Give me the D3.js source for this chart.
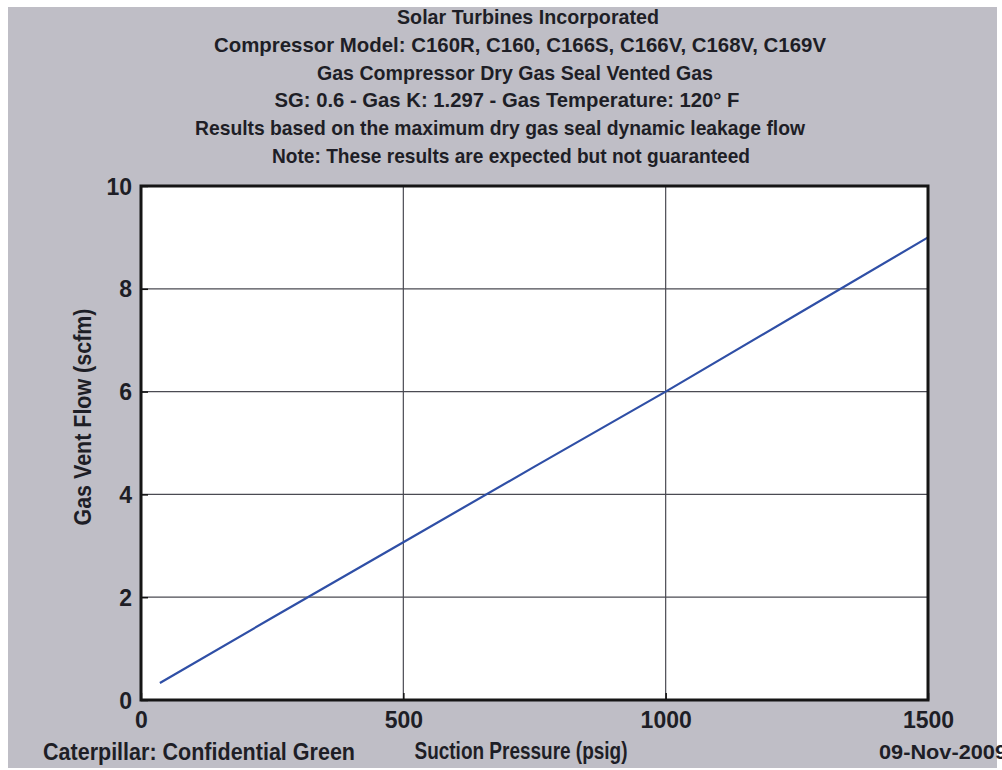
<!DOCTYPE html>
<html>
<head>
<meta charset="utf-8">
<script src="https://cdn.jsdelivr.net/npm/d3@7"></script>
<style>
  body { margin: 0; background: #fff; }
  text { font-family: "Liberation Sans", Arial, sans-serif; fill: #1e1e26; font-weight: bold; }
</style>
</head>
<body>
<div id="chart"></div>
<script>
// DATA
var pressure = [36, 250, 500, 750, 1000, 1250, 1500]
var ventFlow = [0.33, 1.6, 3.07, 4.54, 6.0, 7.5, 9.0]
var xTicks = [0, 500, 1000, 1500]
var yTicks = [0, 2, 4, 6, 8, 10]
var titleLines = [
    "Solar Turbines Incorporated",
    "Compressor Model: C160R, C160, C166S, C166V, C168V, C169V",
    "Gas Compressor Dry Gas Seal Vented Gas",
    "SG: 0.6 - Gas K: 1.297 - Gas Temperature: 120\u00b0 F",
    "Results based on the maximum dry gas seal dynamic leakage flow",
    "Note: These results are expected but not guaranteed"
]
// measured widths / centres of the title lines
var titleWidth = [262, 612, 396, 465, 610, 478]
var titleCenter = [528, 520, 515, 507, 500, 511]

var W = 1002, H = 770
var margin = {top: 186, right: 74, bottom: 70, left: 141}
var width = W - margin.left - margin.right
var height = H - margin.top - margin.bottom

var svg = d3.select("#chart").append("svg")
    .attr("width", W)
    .attr("height", H)

// gray figure background
svg.append("rect")
    .attr("x", 8).attr("y", 7)
    .attr("width", 989).attr("height", 761)
    .attr("fill", "#bfbec6")

var g = svg.append("g")
    .attr("transform", `translate(${margin.left}, ${margin.top})`)

var x = d3.scaleLinear().domain([0, 1500]).range([0, width])
var y = d3.scaleLinear().domain([0, 10]).range([height, 0])

g.append("rect")
    .attr("width", width).attr("height", height)
    .attr("fill", "#fff")

// grid lines
g.selectAll(".gx").data(xTicks.slice(1, -1)).enter().append("line")
    .attr("x1", d => x(d)).attr("x2", d => x(d))
    .attr("y1", 0).attr("y2", height)
    .attr("stroke", "#4a4a52").attr("stroke-width", 1.2)
g.selectAll(".gy").data(yTicks.slice(1, -1)).enter().append("line")
    .attr("x1", 0).attr("x2", width)
    .attr("y1", d => y(d)).attr("y2", d => y(d))
    .attr("stroke", "#4a4a52").attr("stroke-width", 1.2)

// the curve
var line = d3.line().x((d, i) => x(pressure[i])).y(d => y(d))
g.append("path")
    .datum(ventFlow)
    .attr("d", line)
    .attr("fill", "none")
    .attr("stroke", "#2f4fa6")
    .attr("stroke-width", 2.2)

// axes (MATLAB style ticks inward)
var xAxis = g.append("g")
    .attr("transform", `translate(0, ${height})`)
    .call(d3.axisBottom(x).tickValues(xTicks).tickFormat(d3.format("d")).tickSize(-7).tickPadding(11))
var yAxis = g.append("g")
    .call(d3.axisLeft(y).tickValues(yTicks).tickFormat(d3.format("d")).tickSize(-7).tickPadding(9))
xAxis.selectAll("text").style("font-size", "23px").attr("dy", "0.75em")
yAxis.selectAll("text").style("font-size", "23px").attr("dy", "0.35em")
g.selectAll(".domain").remove()
g.selectAll(".tick line").attr("stroke", "#111").attr("stroke-width", 1.5)

// frame
g.append("rect")
    .attr("width", width).attr("height", height)
    .attr("fill", "none")
    .attr("stroke", "#151515")
    .attr("stroke-width", 3)

// titles
svg.selectAll(".title").data(titleLines).enter().append("text")
    .attr("x", (d, i) => titleCenter[i])
    .attr("y", (d, i) => 24 + i * 27.8)
    .attr("text-anchor", "middle")
    .attr("textLength", (d, i) => titleWidth[i])
    .attr("lengthAdjust", "spacingAndGlyphs")
    .style("font-size", "21px")
    .text(d => d)

// axis labels
svg.append("text")
    .attr("x", 521).attr("y", 759)
    .attr("text-anchor", "middle")
    .attr("textLength", 213).attr("lengthAdjust", "spacingAndGlyphs")
    .style("font-size", "23px")
    .text("Suction Pressure (psig)")

svg.append("text")
    .attr("transform", "translate(91, 417) rotate(-90)")
    .attr("text-anchor", "middle")
    .attr("textLength", 217).attr("lengthAdjust", "spacingAndGlyphs")
    .style("font-size", "23px")
    .text("Gas Vent Flow (scfm)")

svg.append("text")
    .attr("x", 43).attr("y", 760)
    .attr("textLength", 312).attr("lengthAdjust", "spacingAndGlyphs")
    .style("font-size", "23px")
    .text("Caterpillar: Confidential Green")

svg.append("text")
    .attr("x", 879).attr("y", 759)
    .attr("textLength", 128).attr("lengthAdjust", "spacingAndGlyphs")
    .style("font-size", "21px")
    .text("09-Nov-2009")
</script>
</body>
</html>
